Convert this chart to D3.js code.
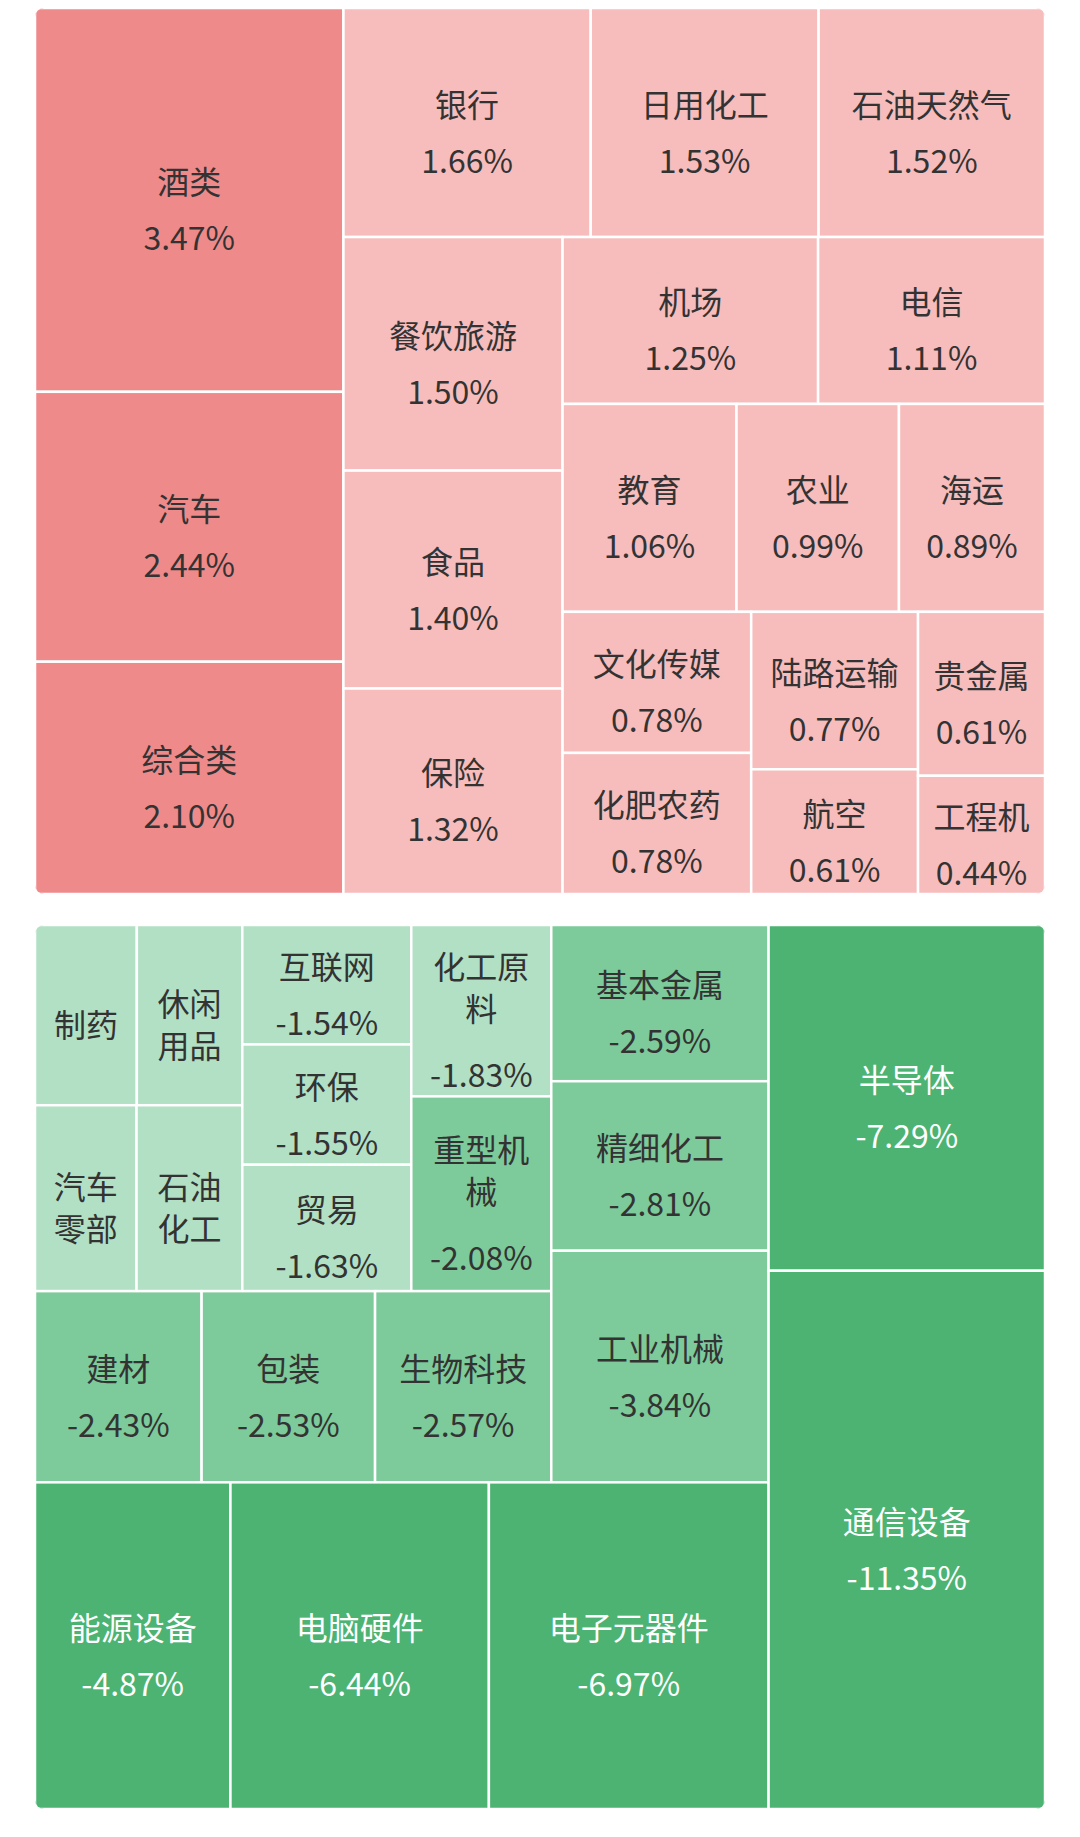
<!DOCTYPE html>
<html><head><meta charset="utf-8">
<script src="https://cdn.jsdelivr.net/npm/d3@7"></script>
<style>body{margin:0;background:#fff}svg{display:block}</style>
</head><body>
<svg id="chart" width="1080" height="1837"></svg>
<script>
// gainers (top block) - nested groups follow the slice/dice layout
var upCol1 = [['酒类', 3.47], ['汽车', 2.44], ['综合类', 2.10]];
var upRow1 = [['银行', 1.66], ['日用化工', 1.53], ['石油天然气', 1.52]];
var upLeftCol = [['餐饮旅游', 1.50], ['食品', 1.40], ['保险', 1.32]];
var upRowA = [['机场', 1.25], ['电信', 1.11]];
var upRowB = [['教育', 1.06], ['农业', 0.99], ['海运', 0.89]];
var upColC1 = [['文化传媒', 0.78], ['化肥农药', 0.78]];
var upColC2 = [['陆路运输', 0.77], ['航空', 0.61]];
var upColC3 = [['贵金属', 0.61], ['工程机械', 0.44]];

// losers (bottom block)
var dnG1r1 = [['制药', -1.40], ['休闲用品', -1.45]];
var dnG1r2 = [['汽车零部', -1.44], ['石油化工', -1.50]];
var dnColA = [['互联网', -1.54], ['环保', -1.55], ['贸易', -1.63]];
var dnColB = [['化工原料', -1.83], ['重型机械', -2.08]];
var dnRowC = [['建材', -2.43], ['包装', -2.53], ['生物科技', -2.57]];
var dnColD = [['基本金属', -2.59], ['精细化工', -2.81], ['工业机械', -3.84]];
var dnRowE = [['能源设备', -4.87], ['电脑硬件', -6.44], ['电子元器件', -6.97]];
var dnColF = [['半导体', -7.29], ['通信设备', -11.35]];

function leaves(arr) { return arr.map(d => ({name: d[0], v: d[1]})); }
function grp() { return {children: Array.from(arguments)}; }
function L(arr) { return grp.apply(null, leaves(arr)); }

var upTree = grp(
  L(upCol1),
  grp(L(upRow1),
      grp(L(upLeftCol),
          grp(L(upRowA), L(upRowB), grp(L(upColC1), L(upColC2), L(upColC3)))))
);
var dnTree = grp(
  grp(grp(grp(grp(grp(L(dnG1r1), L(dnG1r2)), L(dnColA), L(dnColB)), L(dnRowC)), L(dnColD)),
      L(dnRowE)),
  L(dnColF)
);

var svg = d3.select('#chart');
var font = '"Noto Sans CJK SC", "Noto Sans", sans-serif';
var fs = 32;

function color(v) {
  if (v >= 2) return '#ef8a8b';
  if (v > 0) return '#f7bdbd';
  if (v > -2) return '#b2e0c5';
  if (v > -4.5) return '#7dcb9b';
  return '#4cb372';
}

var measure = svg.append('text').style('font-family', font).style('font-size', fs + 'px');
function tw(s) { measure.text(s); return measure.node().getComputedTextLength(); }

function draw(tree, x0, y0, x1, y1, id) {
  var root = d3.hierarchy(tree).sum(d => d.v ? Math.abs(d.v) : 0);
  d3.treemap().tile(d3.treemapSliceDice).size([x1 - x0, y1 - y0])(root);

  svg.append('clipPath').attr('id', id).append('rect')
    .attr('x', x0).attr('y', y0).attr('width', x1 - x0).attr('height', y1 - y0).attr('rx', 9);
  var g = svg.append('g').attr('clip-path', 'url(#' + id + ')');

  var cell = g.selectAll('g').data(root.leaves()).join('g')
    .attr('transform', d => 'translate(' + (x0 + d.x0) + ',' + (y0 + d.y0) + ')');
  cell.append('rect')
    .attr('width', d => d.x1 - d.x0).attr('height', d => d.y1 - d.y0)
    .attr('fill', d => color(d.data.v)).attr('stroke', '#fff').attr('stroke-width', 2.5);

  cell.each(function(d) {
    var w = d.x1 - d.x0, h = d.y1 - d.y0;
    var per = Math.max(1, Math.floor((w - 30) / fs));
    var name = d.data.name, lines = [];
    for (var i = 0; i < name.length; i += per) lines.push(name.slice(i, i + per));
    var valTxt = d.data.v.toFixed(2) + '%';
    var showVal = tw(valTxt) <= w - 22;
    if (lines.length > 1 && (lines.length + (showVal ? 1 : 0)) * 48 > h - 20) lines = [lines[0]];
    // y offsets: name lines 42 apart, value 60 below last name line
    var ys = lines.map((l, k) => k * 42);
    var rows = lines.slice();
    if (showVal) { rows.push(valTxt); ys.push(ys[ys.length - 1] + (lines.length > 1 ? 66 : 56)); }
    var shift = h / 2 - ys[ys.length - 1] / 2 + 8;
    var fill = d.data.v < -4.5 ? '#fff' : '#333';
    rows.forEach(function(r, k) {
      d3.select(this).append('text')
        .attr('x', w / 2).attr('y', shift + ys[k])
        .attr('text-anchor', 'middle').attr('dominant-baseline', 'central')
        .style('font-family', font).style('font-size', fs + 'px').attr('fill', fill)
        .text(r);
    }, this);
  });
}

draw(upTree, 35, 8, 1045, 894, 'clipUp');
draw(dnTree, 35, 925, 1045, 1809, 'clipDn');
measure.remove();
</script>
</body></html>
